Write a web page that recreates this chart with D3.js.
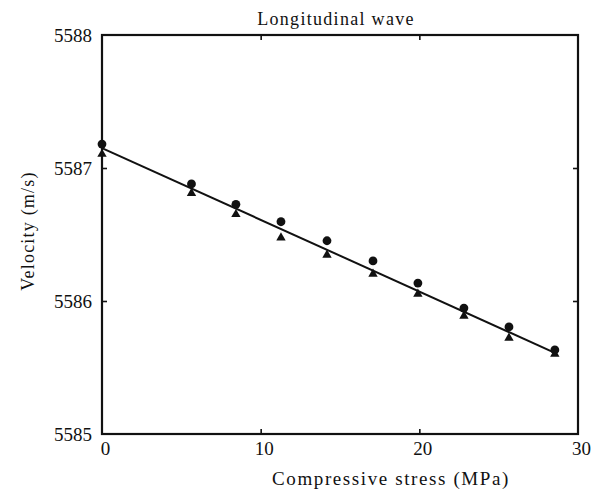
<!DOCTYPE html>
<html>
<head>
<meta charset="utf-8">
<script src="https://cdn.jsdelivr.net/npm/d3@7"></script>
<style>
  html, body { margin: 0; padding: 0; background: #fff; }
  svg text { font-family: "Liberation Serif", "DejaVu Serif", serif; fill: #111; }
</style>
</head>
<body>
<div id="chart"></div>
<script>
// Stress levels (MPa) where velocities were measured
const stress = [0, 5.64, 8.44, 11.28, 14.18, 17.08, 19.91, 22.81, 25.65, 28.54];

// Measured velocities (m/s): circles and triangles
const velocityCircle = [5587.18, 5586.88, 5586.727, 5586.596, 5586.453, 5586.301, 5586.135, 5585.947, 5585.805, 5585.632];
const velocityTriangle = [5587.105, 5586.81, 5586.652, 5586.476, 5586.346, 5586.203, 5586.053, 5585.887, 5585.722, 5585.602];

// Fitted straight line (end points)
const fitStress = [0, 28.54];
const fitVelocity = [5587.15, 5585.61];

// Axis ticks
const xTicks = [0, 10, 20, 30];
const xInnerTicks = [10, 20];
const yTicks = [5585, 5586, 5587, 5588];
const yInnerTicks = [5586, 5587];

const W = 599, H = 502;
const plot = { left: 102, right: 578, top: 35, bottom: 434 };

const svg = d3.select('#chart')
  .append('svg')
  .attr('width', W)
  .attr('height', H)
  .attr('viewBox', `0 0 ${W} ${H}`);

const x = d3.scaleLinear().domain([0, 30]).range([plot.left, plot.right]);
const y = d3.scaleLinear().domain([5585, 5588]).range([plot.bottom, plot.top]);

// Inner tick marks on all four sides
function tickMarks(axis, transform) {
  const g = svg.append('g').attr('transform', transform).call(axis);
  g.select('.domain').remove();
  g.selectAll('line').attr('stroke', '#111').attr('stroke-width', 1.6);
  g.selectAll('text').remove();
  return g;
}
tickMarks(d3.axisBottom(x).tickValues(xInnerTicks).tickSize(-5), `translate(0,${plot.bottom})`);
tickMarks(d3.axisTop(x).tickValues(xInnerTicks).tickSize(-5), `translate(0,${plot.top})`);
tickMarks(d3.axisLeft(y).tickValues(yInnerTicks).tickSize(-5), `translate(${plot.left},0)`);
tickMarks(d3.axisRight(y).tickValues(yInnerTicks).tickSize(-5), `translate(${plot.right},0)`);

// Tick labels
const xLab = svg.append('g')
  .attr('transform', `translate(0,${plot.bottom})`)
  .call(d3.axisBottom(x).tickValues(xTicks).tickSize(0).tickPadding(8).tickFormat(d3.format('d')));
xLab.select('.domain').remove();
xLab.selectAll('text')
  .attr('font-size', 19)
  .attr('dx', 3)
  .attr('font-family', '"Liberation Serif", serif')
  .attr('fill', '#111');

const yLab = svg.append('g')
  .attr('transform', `translate(${plot.left},0)`)
  .call(d3.axisLeft(y).tickValues(yTicks).tickSize(0).tickPadding(10).tickFormat(d3.format('d')));
yLab.select('.domain').remove();
yLab.selectAll('text')
  .attr('font-size', 19)
  .attr('font-family', '"Liberation Serif", serif')
  .attr('fill', '#111');

// Frame
svg.append('rect')
  .attr('x', plot.left)
  .attr('y', plot.top)
  .attr('width', plot.right - plot.left)
  .attr('height', plot.bottom - plot.top)
  .attr('fill', 'none')
  .attr('stroke', '#111')
  .attr('stroke-width', 2.2);

// Fitted line
const fitData = fitStress.map((s, i) => ({ s, v: fitVelocity[i] }));
svg.append('path')
  .datum(fitData)
  .attr('fill', 'none')
  .attr('stroke', '#111')
  .attr('stroke-width', 2)
  .attr('d', d3.line().x(d => x(d.s)).y(d => y(d.v)));

// Markers
const circleData = stress.map((s, i) => ({ s, v: velocityCircle[i] }));
const triData = stress.map((s, i) => ({ s, v: velocityTriangle[i] }));

svg.append('g').selectAll('path')
  .data(triData)
  .join('path')
  .attr('transform', d => `translate(${x(d.s)},${y(d.v)})`)
  .attr('d', d3.symbol().type(d3.symbolTriangle).size(38))
  .attr('fill', '#111');

svg.append('g').selectAll('circle')
  .data(circleData)
  .join('circle')
  .attr('cx', d => x(d.s))
  .attr('cy', d => y(d.v))
  .attr('r', 4.4)
  .attr('fill', '#111');

// Title and axis titles
svg.append('text')
  .attr('x', 336)
  .attr('y', 25)
  .attr('text-anchor', 'middle')
  .attr('font-size', 18)
  .attr('letter-spacing', 1.3)
  .text('Longitudinal wave');

svg.append('text')
  .attr('x', 391)
  .attr('y', 485)
  .attr('text-anchor', 'middle')
  .attr('font-size', 19)
  .attr('letter-spacing', 1.6)
  .text('Compressive stress (MPa)');

svg.append('text')
  .attr('transform', 'translate(34,231) rotate(-90)')
  .attr('text-anchor', 'middle')
  .attr('font-size', 18)
  .attr('letter-spacing', 1.2)
  .text('Velocity (m/s)');
</script>
</body>
</html>
